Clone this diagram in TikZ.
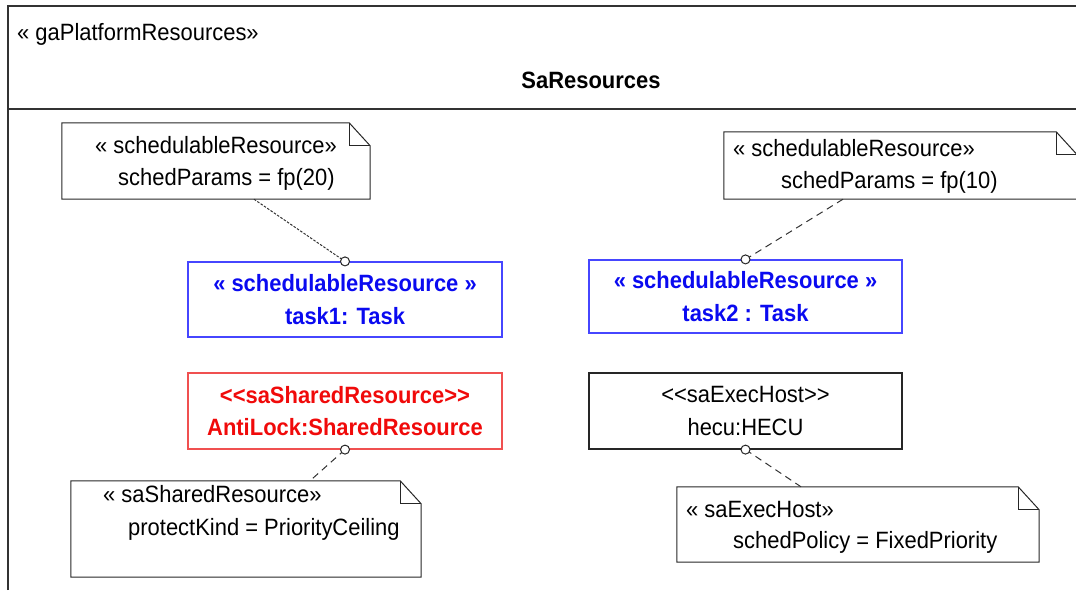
\documentclass[tikz,border=0pt]{standalone}
\usepackage{fontspec}
\setmainfont{Liberation Sans}[Ligatures=TeXOff, FakeStretch=0.93]
\definecolor{taskblue}{RGB}{10,10,240}
\definecolor{taskedge}{RGB}{70,70,255}
\definecolor{lockred}{RGB}{240,10,10}
\definecolor{lockedge}{RGB}{240,80,80}
\definecolor{framegray}{RGB}{50,50,50}
\newcommand{\umlfont}{\fontsize{23.6}{32.5}\selectfont}
\begin{document}
\begin{tikzpicture}[x=1pt,y=-1pt,
	every node/.style={font=\umlfont, inner sep=0pt},
	objbox/.style={draw, line width=1.2pt, align=center},
	noteline/.style={line width=1pt, draw=black!85},
	attach/.style={line width=1pt, draw=black!80, dash pattern=on 7pt off 5pt},
	fineattach/.style={line width=1pt, draw=black!80, dash pattern=on 2.5pt off 1.5pt},
	pin/.style={line width=1pt, draw=black!85, fill=white},
	frame/.style={line width=1.4pt, draw=framegray}]
	\useasboundingbox (0,0) rectangle (1076,590);
	\draw[frame] (8,590) -- (8,6) -- (1076,6);
	\draw[frame] (8,109) -- (1076,109);
	\node[anchor=base west] (stereo) at (17,40) {« gaPlatformResources»};
	\node[anchor=base, font=\umlfont\bfseries] (title) at (591,88) {SaResources};

	\node[objbox, draw=taskedge, text=taskblue, font=\umlfont\bfseries,%
		minimum width=314, minimum height=75] (task1) at (345,299.5)
		{« schedulableResource »\\task1: Task};
	\node[objbox, draw=taskedge, text=taskblue, font=\umlfont\bfseries,%
		minimum width=313, minimum height=73] (task2) at (745.5,296.5)
		{« schedulableResource »\\task2 : Task};
	\node[objbox, draw=lockedge, text=lockred, font=\umlfont\bfseries,%
		minimum width=314, minimum height=76] (lock) at (345,411)
		{<<saSharedResource>>\\AntiLock:SharedResource};
	\node[objbox, draw=black!85, minimum width=313, minimum height=76] (hecu) at (745.5,411)
		{<<saExecHost>>\\hecu:HECU};

	\node[minimum width=308, minimum height=76] (note1) at (216,161) {};
	\node[minimum width=353, minimum height=67] (note2) at (900.5,165.5) {};
	\node[minimum width=350, minimum height=96] (note3) at (246,529) {};
	\node[minimum width=362, minimum height=75] (note4) at (858,524.5) {};
	\foreach \n in {note1,note2,note3,note4}{
		\draw[noteline] (\n.north west) -- ([xshift=-21pt]\n.north east) --%
		([yshift=-23pt]\n.north east) -- (\n.south east) -- (\n.south west) -- cycle;
		\draw[noteline] ([xshift=-21pt]\n.north east) |- ([yshift=-23pt]\n.north east);
	}
	\node[anchor=base west] (note1a) at (95,153) {« schedulableResource»};
	\node[anchor=base west] (note1b) at (118,185) {schedParams = fp(20)};
	\node[anchor=base west] (note2a) at (733,156) {« schedulableResource»};
	\node[anchor=base west] (note2b) at (781,188) {schedParams = fp(10)};
	\node[anchor=base west] (note3a) at (103,502) {« saSharedResource»};
	\node[anchor=base west] (note3b) at (128,535) {protectKind = PriorityCeiling};
	\node[anchor=base west] (note4a) at (686,517) {« saExecHost»};
	\node[anchor=base west] (note4b) at (733,548) {schedPolicy = FixedPriority};

	\draw[fineattach] ([xshift=38pt]note1.south) -- (task1.north);
	\draw[attach] ([xshift=-57.5pt]note2.south) -- (task2.north);
	\draw[attach] (lock.south) -- ([xshift=64pt]note3.north);
	\draw[attach] (hecu.south) -- ([xshift=-57pt]note4.north);
	\foreach \p in {task1.north,task2.north,lock.south,hecu.south}
		\draw[pin] (\p) circle (4.5pt);
\end{tikzpicture}
\end{document}
